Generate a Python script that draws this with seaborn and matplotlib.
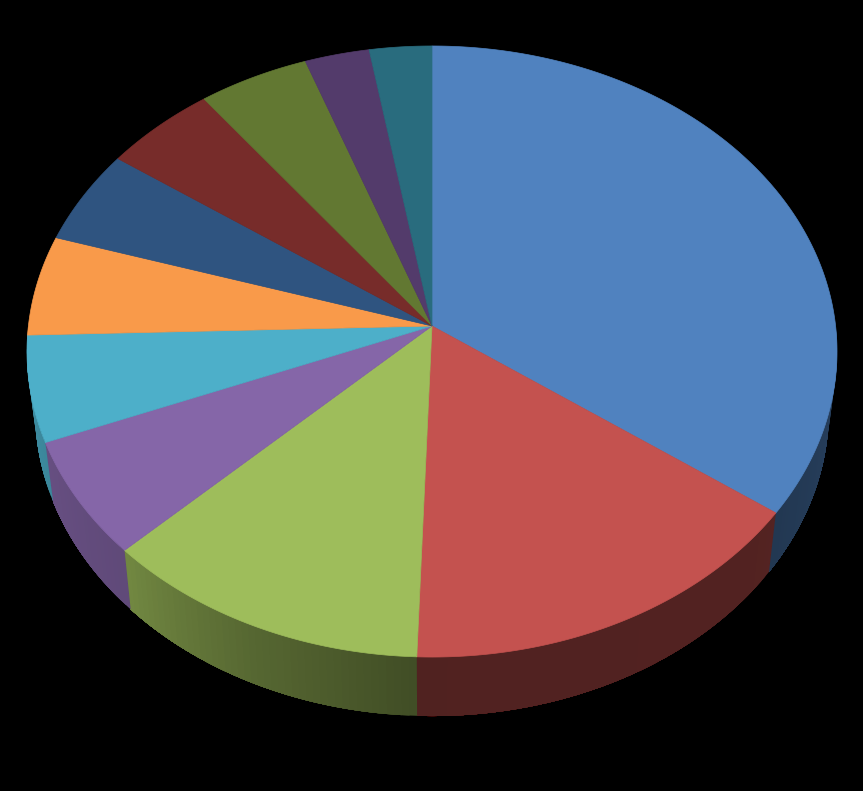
import numpy as np
import seaborn as sns
import matplotlib.pyplot as plt

# slice shares in percent, clockwise from 12 o'clock
shares = [35.0, 15.6, 12.2, 6.2, 5.6, 5.3, 5.0, 4.9, 4.8, 2.8, 2.7]
slice_colors = ["#5082BF", "#C4524F", "#9EBD5B", "#8566A8", "#4DAFC9", "#F99A4A",
                "#2F5480", "#772C2A", "#627832", "#533B6B", "#296C7E"]

# side face brightness against the angle round the pie
shade_angles = [90, 130, 182, 205, 226, 270]
shade_factors = [0.50, 0.42, 0.41, 0.55, 0.72, 0.82]

# perspective of the disc, in pixels
apex_x, apex_y = 432, 326
scale_x, scale_y = 403.6, 303.4
tilt = 0.0835
depth = 59
rim_shrink = 0.98


def top_rim(theta):
    # disc point at clockwise angle theta (radians) seen in perspective
    w = 1 + tilt * np.cos(theta)
    return apex_x + scale_x * np.sin(theta) / w, apex_y - scale_y * np.cos(theta) / w


def bottom_rim(theta):
    x, y = top_rim(theta)
    return apex_x + rim_shrink * (x - apex_x), y + depth


sns.set_theme(style="white")
palette = sns.color_palette(slice_colors)

fig = plt.figure(figsize=(8.63, 7.91), dpi=100, facecolor="black")
ax = fig.add_axes([0, 0, 1, 1], facecolor="black")
ax.set_xlim(0, 863)
ax.set_ylim(791, 0)
ax.axis("off")

edges = np.cumsum([0] + shares) / sum(shares) * 360

# side faces, only the front half can be seen
for start, stop, color in zip(edges[:-1], edges[1:], palette):
    lo, hi = max(start, 90), min(stop, 270)
    if lo >= hi:
        continue
    steps = np.linspace(lo, hi, int(hi - lo) + 2)
    # every strip runs on to the end of the slice, the next one paints over it
    for a, b in zip(steps[:-1], steps[1:]):
        t = np.radians(np.linspace(a, hi, 40))
        tx, ty = top_rim(t)
        bx, by = bottom_rim(t)
        f = np.interp((a + b) / 2, shade_angles, shade_factors)
        shaded = tuple(c * f for c in color)
        ax.fill(np.r_[tx, bx[::-1]], np.r_[ty, by[::-1]], color=shaded, lw=0, zorder=1)

# top faces
for start, stop, color in zip(edges[:-1], edges[1:], palette):
    t = np.radians(np.linspace(start, stop, int(stop - start) * 2 + 2))
    x, y = top_rim(t)
    ax.fill(np.r_[apex_x, x], np.r_[apex_y, y], color=color, lw=0.5, zorder=2)

fig.savefig("out.png", dpi=100, facecolor="black")
